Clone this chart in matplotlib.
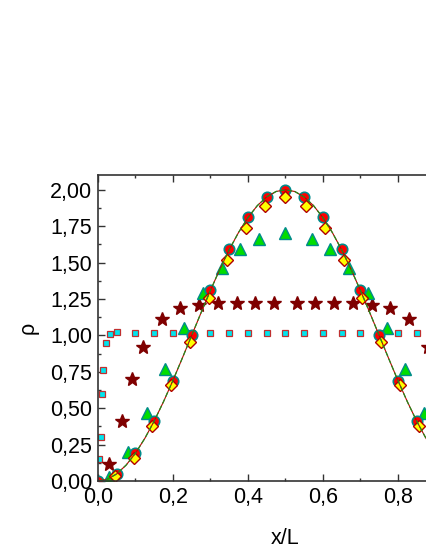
import numpy as np
import matplotlib
matplotlib.use("Agg")
import matplotlib.pyplot as plt
from matplotlib.ticker import MultipleLocator, FuncFormatter

plt.rcParams["font.family"] = ["Liberation Sans", "DejaVu Sans"]

# theoretical curve
x_line = [0.0, 0.025, 0.05, 0.075, 0.1, 0.125, 0.15, 0.175, 0.2, 0.225, 0.25,
          0.275, 0.3, 0.325, 0.35, 0.375, 0.4, 0.425, 0.45, 0.475, 0.5,
          0.525, 0.55, 0.575, 0.6, 0.625, 0.65, 0.675, 0.7, 0.725, 0.75,
          0.775, 0.8, 0.825, 0.85, 0.875, 0.9, 0.925, 0.95, 0.975, 1.0]
rho_line = [0.0, 0.012, 0.049, 0.109, 0.191, 0.293, 0.412, 0.546, 0.691, 0.844, 1.0,
            1.156, 1.309, 1.454, 1.588, 1.707, 1.809, 1.891, 1.951, 1.988, 2.0,
            1.988, 1.951, 1.891, 1.809, 1.707, 1.588, 1.454, 1.309, 1.156, 1.0,
            0.844, 0.691, 0.546, 0.412, 0.293, 0.191, 0.109, 0.049, 0.012, 0.0]

# circles
x_circ = [0.0, 0.05, 0.1, 0.15, 0.2, 0.25, 0.3, 0.35, 0.4, 0.45, 0.5,
          0.55, 0.6, 0.65, 0.7, 0.75, 0.8, 0.85, 0.9, 0.95, 1.0]
rho_circ = [0.0, 0.05, 0.19, 0.41, 0.69, 1.0, 1.31, 1.59, 1.81, 1.95, 2.0,
            1.95, 1.81, 1.59, 1.31, 1.0, 0.69, 0.41, 0.19, 0.05, 0.0]

# diamonds
x_diam = [0.045, 0.095, 0.145, 0.195, 0.245, 0.295, 0.345, 0.395, 0.445, 0.5,
          0.555, 0.605, 0.655, 0.705, 0.755, 0.805, 0.855, 0.905, 0.955]
rho_diam = [0.035, 0.16, 0.38, 0.66, 0.955, 1.26, 1.52, 1.74, 1.89, 1.95,
            1.89, 1.74, 1.52, 1.26, 0.955, 0.66, 0.38, 0.16, 0.035]

# triangles
x_tri = [0.03, 0.08, 0.13, 0.18, 0.23, 0.28, 0.33, 0.38, 0.43, 0.5,
         0.57, 0.62, 0.67, 0.72, 0.77, 0.82, 0.87, 0.92, 0.97]
rho_tri = [0.03, 0.20, 0.47, 0.77, 1.05, 1.29, 1.46, 1.59, 1.66, 1.70,
           1.66, 1.59, 1.46, 1.29, 1.05, 0.77, 0.47, 0.20, 0.03]

# stars
x_star = [0.03, 0.063, 0.092, 0.12, 0.17, 0.22, 0.27, 0.32, 0.37, 0.42, 0.47,
          0.53, 0.58, 0.63, 0.68, 0.73, 0.78, 0.83, 0.88, 0.908, 0.937, 0.97]
rho_star = [0.12, 0.41, 0.70, 0.92, 1.11, 1.19, 1.21, 1.22, 1.22, 1.22, 1.22,
            1.22, 1.22, 1.22, 1.22, 1.21, 1.19, 1.11, 0.92, 0.70, 0.41, 0.12]

# squares
x_sq = [0.004, 0.008, 0.012, 0.014, 0.021, 0.032, 0.052, 0.1, 0.15, 0.2, 0.25,
        0.3, 0.35, 0.4, 0.45, 0.5, 0.55, 0.6, 0.65, 0.7, 0.75, 0.8, 0.85, 0.9,
        0.948, 0.968, 0.979, 0.986, 0.988, 0.992, 0.996]
rho_sq = [0.15, 0.30, 0.60, 0.76, 0.95, 1.01, 1.02, 1.015, 1.015, 1.015, 1.015,
          1.015, 1.015, 1.015, 1.015, 1.015, 1.015, 1.015, 1.015, 1.015, 1.015,
          1.015, 1.015, 1.015, 1.02, 1.01, 0.95, 0.76, 0.60, 0.30, 0.15]

fig = plt.figure(figsize=(4.26, 5.52), dpi=100)
ax = fig.add_axes([0.230, 0.1286, 0.880, 0.554])

ax.plot(x_sq, rho_sq, linestyle="none", marker="s", ms=4.2,
        mfc="#00e5ee", mec="#c03030", mew=0.9)
ax.plot(x_star, rho_star, linestyle="none", marker="*", ms=10,
        color="#7f0000", mec="#7f0000")
ax.plot(x_tri, rho_tri, linestyle="none", marker="^", ms=8.5,
        mfc="#00dd00", mec="#008b8b", mew=1.0)
ax.plot(x_circ, rho_circ, linestyle="none", marker="o", ms=7.5,
        mfc="#ff0000", mec="#008b8b", mew=1.2)
ax.plot(x_diam, rho_diam, linestyle="none", marker="D", ms=6,
        mfc="#ffff00", mec="#b00000", mew=1.0)
ax.plot(x_line, rho_line, color="#c00000", lw=0.8)
ax.plot(x_line, rho_line, color="#1f8f1f", lw=0.9, dashes=(4, 2))

ax.set_xlim(0, 1.0)
ax.set_ylim(0, 2.1)
ax.xaxis.set_major_locator(MultipleLocator(0.2))
ax.xaxis.set_minor_locator(MultipleLocator(0.1))
ax.yaxis.set_major_locator(MultipleLocator(0.25))
ax.yaxis.set_minor_locator(MultipleLocator(0.125))
ax.xaxis.set_major_formatter(FuncFormatter(lambda v, p: f"{v:.1f}".replace(".", ",")))
ax.yaxis.set_major_formatter(FuncFormatter(lambda v, p: f"{v:.2f}".replace(".", ",")))
ax.tick_params(which="both", direction="in", top=True, right=True,
               labelsize=15.5, width=1.0, color="#333333")
ax.tick_params(which="major", length=5, pad=4)
ax.tick_params(which="minor", length=2.5)
for s in ax.spines.values():
    s.set_linewidth(1.2)
    s.set_color("#333333")

ax.set_xlabel("x/L", fontsize=15.5, labelpad=15)
ax.set_ylabel("ρ", fontsize=15.5, labelpad=8)

fig.savefig("out.png", dpi=100)
